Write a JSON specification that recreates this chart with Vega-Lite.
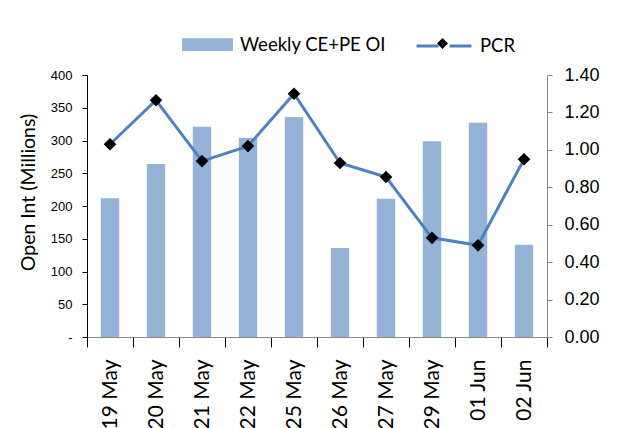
{
  "$schema": "https://vega.github.io/schema/vega-lite/v6.json",
  "width": 460,
  "height": 262,
  "autosize": {"type": "none"},
  "padding": {"left": 87, "top": 75, "right": 75, "bottom": 91},
  "background": "white",
  "config": {"view": {"stroke": null}, "font": "Lato", "axis": {"grid": false}, "legend": {"padding": 0}},
  "data": {"values": [
    {"date": "19 May", "oi": 212, "pcr": 1.03},
    {"date": "20 May", "oi": 264, "pcr": 1.265},
    {"date": "21 May", "oi": 321, "pcr": 0.94},
    {"date": "22 May", "oi": 304, "pcr": 1.02},
    {"date": "25 May", "oi": 336, "pcr": 1.30},
    {"date": "26 May", "oi": 136, "pcr": 0.93},
    {"date": "27 May", "oi": 211, "pcr": 0.855},
    {"date": "29 May", "oi": 299, "pcr": 0.53},
    {"date": "01 Jun", "oi": 327, "pcr": 0.49},
    {"date": "02 Jun", "oi": 141, "pcr": 0.95}
  ]},
  "encoding": {
    "x": {
      "field": "date", "type": "ordinal", "sort": null,
      "scale": {"paddingInner": 0, "paddingOuter": 0},
      "axis": {
        "title": null, "labelAngle": 270, "labelFont": "Lato", "labelFontSize": 21, "labelColor": "black",
        "labelAlign": "right", "labelBaseline": "middle",
        "tickSize": 10, "tickBand": "extent", "tickColor": "black", "domainColor": "#888888",
        "labelPadding": 12
      }
    }
  },
  "layer": [
    {
      "mark": {"type": "bar", "width": {"band": 0.4}},
      "encoding": {
        "y": {
          "field": "oi", "type": "quantitative", "scale": {"domain": [0, 400]},
          "axis": {
            "orient": "left", "values": [0, 50, 100, 150, 200, 250, 300, 350, 400],
            "labelExpr": "datum.value == 0 ? '-' : datum.label",
            "labelFont": "Liberation Sans", "labelFontSize": 13, "labelColor": "black",
            "domainColor": "black", "tickColor": "black", "tickSize": 5, "labelPadding": 10,
            "title": "Open Int (Millions)", "titleFont": "Lato", "titleFontSize": 19.5, "titleFontWeight": "normal",
            "titleColor": "black", "titleX": -59, "titleY": 117, "titleAngle": 270,
            "titleAlign": "center", "titleBaseline": "middle"
          }
        },
        "fill": {
          "datum": "Weekly CE+PE OI",
          "scale": {"range": ["#95B3D7"]},
          "legend": {
            "title": null, "orient": "none", "legendX": 95, "legendY": -56,
            "symbolType": "M-1,-0.25H1V0.25H-1Z", "symbolSize": 2601, "symbolStrokeWidth": 0,
            "labelFont": "Lato", "labelFontSize": 18.5, "labelColor": "black", "labelOffset": 7
          }
        }
      }
    },
    {
      "mark": {"type": "line", "strokeWidth": 3},
      "encoding": {
        "y": {
          "field": "pcr", "type": "quantitative", "scale": {"domain": [0, 1.4]},
          "axis": {
            "orient": "right", "values": [0, 0.2, 0.4, 0.6, 0.8, 1.0, 1.2, 1.4], "format": ".2f",
            "labelFont": "Liberation Sans", "labelFontSize": 18, "labelColor": "black",
            "domainColor": "#888888", "tickColor": "#888888", "tickSize": 5, "labelPadding": 12,
            "title": null
          }
        },
        "stroke": {
          "datum": "PCR",
          "scale": {"range": ["#4F81BD"]},
          "legend": {
            "title": null, "orient": "none", "legendX": 328, "legendY": -58,
            "symbolType": "M-1,0H-0.2M0.2,0H1", "symbolSize": 3025, "symbolStrokeWidth": 3,
            "symbolStrokeColor": "#4F81BD",
            "labelFont": "Lato", "labelFontSize": 18.5, "labelColor": "black", "labelOffset": 7
          }
        }
      }
    },
    {
      "mark": {"type": "point", "filled": true, "color": "black", "size": 160, "opacity": 1},
      "encoding": {
        "y": {"field": "pcr", "type": "quantitative", "scale": {"domain": [0, 1.4]}, "axis": null},
        "shape": {
          "datum": "PCR marker",
          "scale": {"range": ["diamond"]},
          "legend": {
            "title": null, "orient": "none", "legendX": 350, "legendY": -37,
            "symbolSize": 120, "symbolFillColor": "black", "symbolStrokeColor": "black", "symbolStrokeWidth": 0,
            "labelExpr": "''", "labelFontSize": 1
          }
        }
      }
    }
  ],
  "resolve": {"scale": {"y": "independent"}}
}
